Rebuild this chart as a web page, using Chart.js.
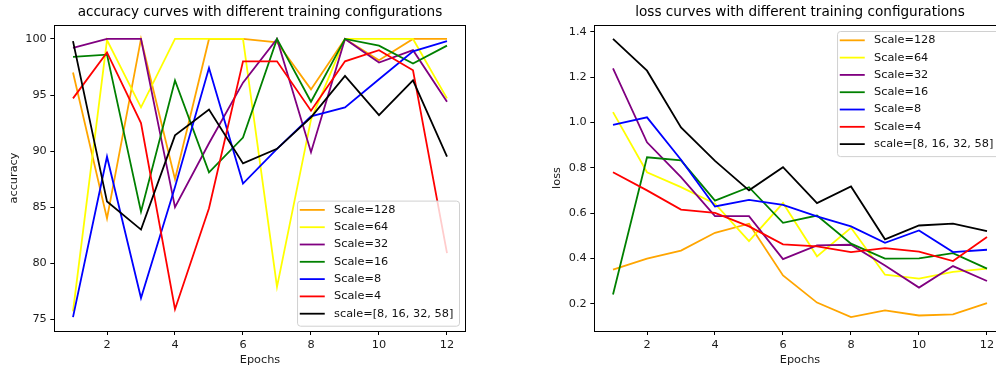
<!DOCTYPE html>
<html>
<head>
<meta charset="utf-8">
<script src="https://cdn.jsdelivr.net/npm/chart.js@4/dist/chart.umd.min.js"></script>
<style>
  html, body { margin: 0; padding: 0; background: #fff; overflow: hidden; }
  #wrap { position: relative; width: 996px; height: 371px; overflow: hidden; }
  canvas { position: absolute; top: 0; }
  #accCanvas { left: 0; }
  #lossCanvas { left: 498px; }
</style>
</head>
<body>
<div id="wrap">
  <canvas id="accCanvas" width="498" height="371"></canvas>
  <canvas id="lossCanvas" width="520" height="371"></canvas>
</div>
<script>
// dados
const epochs = [1, 2, 3, 4, 5, 6, 7, 8, 9, 10, 11, 12];
const rotulos = ['Scale=128', 'Scale=64', 'Scale=32', 'Scale=16', 'Scale=8', 'Scale=4', 'scale=[8, 16, 32, 58]'];
const cores = ['orange', 'yellow', 'purple', 'green', 'blue', 'red', 'black'];

const acc128 = [97.0, 84.0, 100, 87.5, 100, 100, 99.7, 95.5, 100, 98.1, 100, 100];
const acc64 = [75.7, 99.9, 93.9, 100, 100, 100, 77.9, 92.8, 100, 100, 100, 94.7];
const acc32 = [99.2, 100, 100, 85.0, 90.7, 96.1, 100, 89.9, 100, 97.9, 99.0, 94.4];
const acc16 = [98.4, 98.6, 84.6, 96.3, 88.1, 91.2, 100, 94.4, 100, 99.4, 97.8, 99.4];
const acc8 = [75.2, 89.5, 76.9, 86.8, 97.4, 87.1, 90.2, 93.1, 93.9, 96.4, 98.9, 99.8];
const acc4 = [94.7, 98.8, 92.5, 75.9, 84.9, 98.0, 98.0, 93.6, 98.0, 99.0, 97.2, 80.9];
const accMulti = [99.8, 85.5, 83.0, 91.4, 93.7, 88.9, 90.2, 93.0, 96.7, 93.2, 96.3, 89.5];

const loss128 = [0.350, 0.399, 0.434, 0.513, 0.553, 0.325, 0.205, 0.141, 0.171, 0.148, 0.153, 0.203];
const loss64 = [1.045, 0.780, 0.714, 0.641, 0.476, 0.644, 0.409, 0.535, 0.328, 0.311, 0.340, 0.355];
const loss32 = [1.238, 0.912, 0.758, 0.586, 0.586, 0.397, 0.457, 0.460, 0.369, 0.271, 0.366, 0.300];
const loss16 = [0.241, 0.846, 0.832, 0.655, 0.714, 0.557, 0.589, 0.465, 0.399, 0.400, 0.423, 0.355];
const loss8 = [0.989, 1.022, 0.835, 0.629, 0.658, 0.636, 0.585, 0.541, 0.469, 0.523, 0.428, 0.438];
const loss4 = [0.780, 0.700, 0.615, 0.601, 0.541, 0.462, 0.453, 0.428, 0.445, 0.430, 0.388, 0.494];
const lossMulti = [1.368, 1.228, 0.978, 0.830, 0.700, 0.802, 0.644, 0.717, 0.484, 0.545, 0.553, 0.520];

const xTicks = [2, 4, 6, 8, 10, 12];
const accTicks = [75, 80, 85, 90, 95, 100];
const lossTicks = [0.2, 0.4, 0.6, 0.8, 1.0, 1.2, 1.4];

const FONTE = "'DejaVu Sans', sans-serif";
const PEQ = 11.3;
const ESPESSURA = 1.8;

// moldura em volta da área do gráfico (estilo matplotlib)
const moldura = {
  id: 'moldura',
  afterDatasetsDraw(chart) {
    const a = chart.chartArea;
    const ctx = chart.ctx;
    ctx.save();
    ctx.strokeStyle = '#000';
    ctx.lineWidth = 1;
    ctx.strokeRect(Math.round(a.left) + 0.5, Math.round(a.top) + 0.5,
      Math.round(a.right - a.left), Math.round(a.bottom - a.top));
    ctx.restore();
  }
};

// legenda dentro da área, com caixa
function legendaDentro(canto) {
  return {
    id: 'legendaDentro',
    afterDraw(chart) {
      const ctx = chart.ctx;
      const a = chart.chartArea;
      const sets = chart.data.datasets;
      ctx.save();
      ctx.font = PEQ + 'px ' + FONTE;
      let maxW = 0;
      sets.forEach(d => { maxW = Math.max(maxW, ctx.measureText(d.label).width); });
      const w = 37 + maxW + 5.7;
      const h = 9.3 + (sets.length - 1) * 17.3 + 12;
      const x = a.right - 6.7 - w;
      const y = canto === 'baixo' ? a.bottom - 5.3 - h : a.top + 6;
      ctx.beginPath();
      ctx.roundRect(x + 0.5, y + 0.5, w, h, 3);
      ctx.fillStyle = 'rgba(255,255,255,0.8)';
      ctx.fill();
      ctx.strokeStyle = '#d0d0d0';
      ctx.lineWidth = 1;
      ctx.stroke();
      sets.forEach((d, i) => {
        const cy = y + 9.3 + i * 17.3;
        ctx.beginPath();
        ctx.moveTo(x + 2.7, cy);
        ctx.lineTo(x + 27.7, cy);
        ctx.strokeStyle = d.borderColor;
        ctx.lineWidth = ESPESSURA;
        ctx.stroke();
        ctx.fillStyle = '#111';
        ctx.textBaseline = 'middle';
        ctx.textAlign = 'left';
        ctx.fillText(d.label, x + 37, cy);
      });
      ctx.restore();
    }
  };
}

function montarDatasets(series) {
  return series.map((vals, i) => ({
    label: rotulos[i],
    data: epochs.map((e, j) => ({ x: e, y: vals[j] })),
    borderColor: cores[i],
    backgroundColor: cores[i],
    borderWidth: ESPESSURA,
    pointRadius: 0,
    tension: 0,
    fill: false,
    order: series.length - i
  }));
}

function limites(series) {
  const todos = series.flat();
  const mn = Math.min(...todos), mx = Math.max(...todos);
  const m = (mx - mn) * 0.05;
  return [mn - m, mx + m];
}

function criarGrafico(id, titulo, rotY, series, yTicks, cfg) {
  const [ymin, ymax] = limites(series);
  return new Chart(document.getElementById(id), {
    type: 'line',
    data: { datasets: montarDatasets(series) },
    options: {
      responsive: false,
      animation: false,
      devicePixelRatio: 1,
      layout: { padding: { left: 0, right: cfg.padDir, top: 0, bottom: 0 } },
      plugins: {
        legend: { display: false },
        tooltip: { enabled: false },
        title: {
          display: true,
          text: titulo,
          fullSize: false,
          color: '#000',
          font: { family: FONTE, size: 13.6, weight: 'normal' },
          padding: { top: 4.3, bottom: 4.4 }
        }
      },
      scales: {
        x: {
          type: 'linear',
          min: 0.45,
          max: 12.55,
          afterBuildTicks: s => { s.ticks = xTicks.map(v => ({ value: v })); },
          afterFit: s => { s.height = 40; },
          grid: { drawOnChartArea: false, drawTicks: true, tickLength: 4, color: '#000' },
          border: { display: false },
          ticks: { color: '#1a1a1a', padding: 3.4, maxRotation: 0, font: { family: FONTE, size: PEQ } },
          title: { display: true, text: 'Epochs', color: '#1a1a1a', padding: { top: 0, bottom: 4.2 }, font: { family: FONTE, size: PEQ } }
        },
        y: {
          type: 'linear',
          min: ymin,
          max: ymax,
          afterBuildTicks: s => { s.ticks = yTicks.map(v => ({ value: v })); },
          afterFit: s => { s.width = cfg.larguraY; },
          grid: { drawOnChartArea: false, drawTicks: true, tickLength: 4, color: '#000' },
          border: { display: false },
          ticks: {
            color: '#1a1a1a',
            padding: 3.5,
            font: { family: FONTE, size: PEQ },
            callback: v => cfg.decimais ? v.toFixed(1) : String(v)
          },
          title: { display: true, text: rotY, color: '#1a1a1a', padding: { top: cfg.padTituloY, bottom: 0 }, font: { family: FONTE, size: PEQ } }
        }
      }
    },
    plugins: [moldura, legendaDentro(cfg.canto)]
  });
}

criarGrafico('accCanvas', 'accuracy curves with different training configurations', 'accuracy',
  [acc128, acc64, acc32, acc16, acc8, acc4, accMulti], accTicks,
  { padDir: 32.3, larguraY: 54.3, padTituloY: 7.2, decimais: false, canto: 'baixo' });

criarGrafico('lossCanvas', 'loss curves with different training configurations', 'loss',
  [loss128, loss64, loss32, loss16, loss8, loss4, lossMulti], lossTicks,
  { padDir: 12.3, larguraY: 96.3, padTituloY: 52.7, decimais: true, canto: 'cima' });
</script>
</body>
</html>
